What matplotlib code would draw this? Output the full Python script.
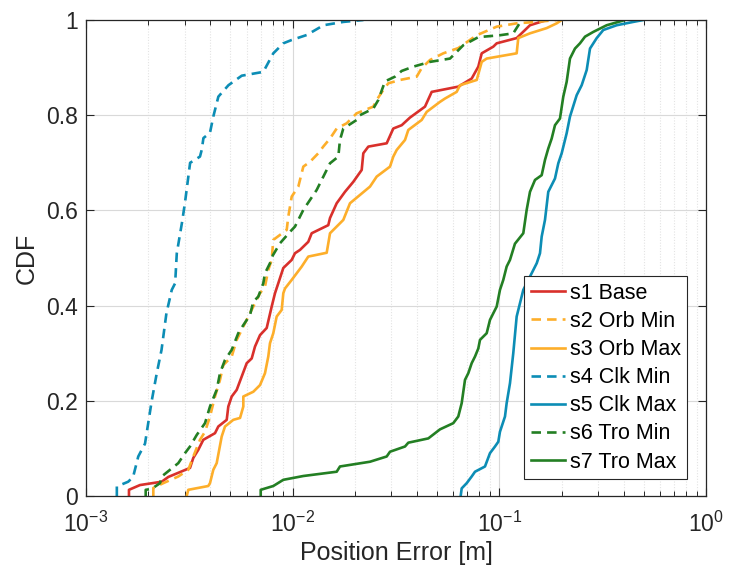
import matplotlib
matplotlib.use("Agg")
import matplotlib.pyplot as plt
from matplotlib.ticker import LogLocator, NullFormatter, FixedLocator

plt.rcParams['font.family'] = ['Liberation Sans', 'DejaVu Sans']
plt.rcParams['mathtext.fontset'] = 'custom'
plt.rcParams['mathtext.rm'] = 'Liberation Sans'
plt.rcParams['mathtext.it'] = 'Liberation Sans'

# Empirical CDF vertices: position error [m] and cumulative probability
s1_err = [0.001614, 0.001614, 0.001825, 0.002325, 0.002502, 0.003186, 0.003305, 0.003494,
          0.003694, 0.004209, 0.004367, 0.004796, 0.004882, 0.005070, 0.005361, 0.005668,
          0.005993, 0.006336, 0.006573, 0.006950, 0.007488, 0.007916, 0.008213, 0.008521,
          0.009010, 0.009893, 0.01026, 0.01085, 0.01190, 0.01236, 0.01487, 0.01516, 0.01633,
          0.01791, 0.01965, 0.02158, 0.02197, 0.02323, 0.02851, 0.03068, 0.03370, 0.03695,
          0.04368, 0.04707, 0.06329, 0.07349, 0.07912, 0.08218, 0.09350, 0.09710, 0.1213,
          0.1407, 0.1695]
s1_cdf = [0, 0.013, 0.023, 0.030, 0.040, 0.059, 0.080, 0.097, 0.118, 0.132, 0.146, 0.160,
          0.188, 0.209, 0.223, 0.251, 0.279, 0.289, 0.314, 0.338, 0.353, 0.398, 0.426, 0.447,
          0.479, 0.496, 0.510, 0.517, 0.534, 0.552, 0.569, 0.584, 0.615, 0.639, 0.660, 0.685,
          0.720, 0.734, 0.741, 0.772, 0.779, 0.795, 0.818, 0.849, 0.860, 0.877, 0.902, 0.930,
          0.944, 0.951, 0.962, 0.989, 1.0]

s2_err = [0.002117, 0.002117, 0.002366, 0.002796, 0.003126, 0.003305, 0.003561, 0.003765,
          0.003981, 0.004209, 0.004450, 0.004616, 0.005070, 0.005361, 0.005668, 0.006100,
          0.006449, 0.006950, 0.007346, 0.007621, 0.007916, 0.008058, 0.009357, 0.009526,
          0.009893, 0.01065, 0.01126, 0.01213, 0.01330, 0.01406, 0.01516, 0.01633, 0.01825,
          0.02041, 0.02455, 0.02550, 0.02744, 0.02902, 0.03306, 0.03983, 0.04210, 0.04619,
          0.05356, 0.06329, 0.07773, 0.09710, 0.1213, 0.1517, 0.1895]
s2_cdf = [0, 0.017, 0.027, 0.041, 0.055, 0.083, 0.118, 0.135, 0.167, 0.209, 0.244, 0.275,
          0.293, 0.328, 0.349, 0.377, 0.398, 0.426, 0.440, 0.475, 0.496, 0.538, 0.559, 0.587,
          0.629, 0.650, 0.692, 0.702, 0.720, 0.734, 0.751, 0.772, 0.783, 0.804, 0.818, 0.832,
          0.853, 0.867, 0.874, 0.881, 0.899, 0.916, 0.930, 0.941, 0.968, 0.986, 0.993, 0.996,
          1.0]

s3_err = [0.003071, 0.003126, 0.003905, 0.003981, 0.004130, 0.004289, 0.004535, 0.004705,
          0.005161, 0.005564, 0.005771, 0.005771, 0.006449, 0.006950, 0.007346, 0.007621,
          0.007767, 0.008058, 0.008368, 0.008850, 0.009010, 0.009182, 0.009893, 0.01046,
          0.01106, 0.01190, 0.01461, 0.01516, 0.01758, 0.01894, 0.02367, 0.02550, 0.02958,
          0.03068, 0.03187, 0.03496, 0.03627, 0.04210, 0.04452, 0.05162, 0.05458, 0.06217,
          0.06451, 0.07773, 0.08218, 0.08686, 0.1213, 0.1235, 0.1407, 0.1695, 0.1895, 0.2003]
s3_cdf = [0, 0.013, 0.021, 0.027, 0.055, 0.069, 0.125, 0.146, 0.160, 0.164, 0.188, 0.209,
          0.219, 0.233, 0.258, 0.293, 0.321, 0.342, 0.377, 0.391, 0.426, 0.436, 0.454, 0.468,
          0.482, 0.503, 0.511, 0.552, 0.580, 0.615, 0.650, 0.671, 0.692, 0.713, 0.727, 0.748,
          0.769, 0.790, 0.807, 0.828, 0.835, 0.849, 0.863, 0.874, 0.912, 0.919, 0.930, 0.962,
          0.972, 0.983, 0.993, 1.0]

s4_err = [0.00141, 0.00141, 0.00160, 0.00169, 0.00179, 0.00193, 0.00200, 0.00208, 0.00220,
          0.00232, 0.00245, 0.00260, 0.00270, 0.00275, 0.00291, 0.00301, 0.00319, 0.00356,
          0.00363, 0.00370, 0.00398, 0.00413, 0.00437, 0.00489, 0.00567, 0.00721, 0.00806,
          0.00901, 0.00989, 0.0117, 0.0141, 0.0176, 0.0220]
s4_cdf = [0, 0.02, 0.03, 0.04, 0.083, 0.11, 0.153, 0.2, 0.258, 0.307, 0.384, 0.433, 0.447,
          0.51, 0.573, 0.615, 0.70, 0.713, 0.727, 0.752, 0.763, 0.797, 0.839, 0.863, 0.883,
          0.891, 0.930, 0.951, 0.958, 0.9685, 0.989, 0.996, 1.0]

s5_err = [0.06501, 0.06574, 0.06953, 0.07349, 0.07626, 0.08522, 0.09011, 0.09528, 0.09886,
          0.1007, 0.1065, 0.1085, 0.1126, 0.1168, 0.1213, 0.1306, 0.1434, 0.1517, 0.1573,
          0.1603, 0.1663, 0.1725, 0.1859, 0.1929, 0.2003, 0.2117, 0.2197, 0.2367, 0.2503,
          0.2647, 0.2746, 0.2959, 0.3184, 0.3697, 0.4447, 0.4972]
s5_cdf = [0, 0.016, 0.027, 0.041, 0.051, 0.062, 0.090, 0.104, 0.114, 0.135, 0.167, 0.195,
          0.237, 0.300, 0.377, 0.433, 0.468, 0.489, 0.510, 0.545, 0.580, 0.639, 0.667, 0.699,
          0.720, 0.762, 0.797, 0.842, 0.863, 0.895, 0.940, 0.962, 0.979, 0.989, 0.996, 1.0]

s6_err = [0.001945, 0.001945, 0.002079, 0.002281, 0.002325, 0.002549, 0.002796, 0.003013,
          0.003186, 0.003431, 0.003765, 0.003981, 0.004289, 0.004450, 0.004705, 0.005070,
          0.005456, 0.005771, 0.006216, 0.006449, 0.006820, 0.007210, 0.007346, 0.007767,
          0.008004, 0.008686, 0.009707, 0.01026, 0.01126, 0.01307, 0.01516, 0.01663, 0.01694,
          0.01758, 0.02041, 0.02117, 0.02455, 0.02597, 0.02797, 0.03126, 0.03370, 0.03835,
          0.04619, 0.05773, 0.06692, 0.07912, 0.1007, 0.1168, 0.1283]
s6_cdf = [0, 0.013, 0.015, 0.027, 0.041, 0.055, 0.069, 0.090, 0.104, 0.128, 0.153, 0.188,
          0.223, 0.258, 0.286, 0.307, 0.342, 0.359, 0.380, 0.408, 0.419, 0.447, 0.468, 0.489,
          0.505, 0.531, 0.555, 0.566, 0.601, 0.643, 0.699, 0.713, 0.748, 0.772, 0.790, 0.800,
          0.814, 0.832, 0.871, 0.881, 0.893, 0.902, 0.912, 0.919, 0.947, 0.964, 0.968, 0.972,
          1.0]

s7_err = [0.007005, 0.007005, 0.008058, 0.009010, 0.01126, 0.01633, 0.01694, 0.02367,
          0.02851, 0.02958, 0.03496, 0.03627, 0.04533, 0.05162, 0.05985, 0.06329, 0.06574,
          0.06821, 0.07077, 0.07349, 0.07626, 0.07912, 0.08062, 0.08686, 0.09011, 0.09710,
          0.1007, 0.1045, 0.1085, 0.1126, 0.1190, 0.1306, 0.1356, 0.1407, 0.1488, 0.1603,
          0.1663, 0.1725, 0.1792, 0.1859, 0.1965, 0.2039, 0.2117, 0.2197, 0.2323, 0.2456,
          0.2598, 0.2849, 0.3307, 0.4055]
s7_cdf = [0, 0.013, 0.021, 0.034, 0.042, 0.051, 0.062, 0.072, 0.083, 0.093, 0.104, 0.112,
          0.121, 0.140, 0.153, 0.167, 0.195, 0.244, 0.258, 0.279, 0.293, 0.310, 0.328, 0.342,
          0.370, 0.398, 0.433, 0.454, 0.482, 0.496, 0.530, 0.552, 0.601, 0.639, 0.664, 0.674,
          0.706, 0.730, 0.751, 0.779, 0.793, 0.839, 0.870, 0.919, 0.940, 0.951, 0.965, 0.975,
          0.989, 1.0]

labels = ["s1 Base", "s2 Orb Min", "s3 Orb Max", "s4 Clk Min",
          "s5 Clk Max", "s6 Tro Min", "s7 Tro Max"]

RED = "#D9302B"
ORANGE = "#FDAE2A"
TEAL = "#0C8DB5"
GREEN = "#237F23"

series = [
    (s1_err, s1_cdf, RED, "-"),
    (s2_err, s2_cdf, ORANGE, "--"),
    (s3_err, s3_cdf, ORANGE, "-"),
    (s4_err, s4_cdf, TEAL, "--"),
    (s5_err, s5_cdf, TEAL, "-"),
    (s6_err, s6_cdf, GREEN, "--"),
    (s7_err, s7_cdf, GREEN, "-"),
]

W, H = 729, 576
fig = plt.figure(figsize=(W / 100, H / 100), dpi=100)
ax = fig.add_axes([86 / W, 80 / H, 620 / W, 476 / H])

for (err, cdf, col, ls), lab in zip(series, labels):
    line, = ax.plot(err, cdf, color=col, linestyle=ls, lw=1.9, label=lab)
    if ls == "--":
        line.set_dashes((3.6, 2.3))

ax.set_xscale("log")
ax.set_xlim(1e-3, 1)
ax.set_ylim(0, 1)
ax.yaxis.set_major_locator(FixedLocator([0, 0.2, 0.4, 0.6, 0.8, 1.0]))
ax.set_yticklabels(["0", "0.2", "0.4", "0.6", "0.8", "1"])
ax.xaxis.set_major_locator(LogLocator(base=10, numticks=10))
ax.xaxis.set_minor_locator(LogLocator(base=10, subs=range(2, 10), numticks=20))
ax.xaxis.set_minor_formatter(NullFormatter())

ax.grid(True, which="major", color="#d9d9d9", lw=0.8)
ax.grid(True, which="minor", axis="x", color="#e3e3e3", lw=0.8, linestyle=(0, (1, 1.5)))
ax.set_axisbelow(True)

for sp in ax.spines.values():
    sp.set_color("#262626")
    sp.set_linewidth(0.9)
ax.tick_params(which="both", direction="in", top=True, right=True, colors="#262626",
               labelsize=16.5, labelcolor="#262626")
ax.tick_params(which="major", length=6, width=0.8)
ax.tick_params(which="minor", length=3.5, width=0.7)
ax.tick_params(axis="x", which="major", pad=11)
ax.tick_params(axis="y", which="major", pad=6)

ax.set_xlabel("Position Error [m]", fontsize=18, color="#262626", labelpad=3)
ax.set_ylabel("CDF", fontsize=18, color="#262626", labelpad=5)

leg = ax.legend(loc="lower right", bbox_to_anchor=(687 / W, 97 / H),
                bbox_transform=fig.transFigure, borderaxespad=0,
                fontsize=15.5, handlelength=1.6, handletextpad=0.2,
                labelspacing=0.33, borderpad=0.3, fancybox=False,
                framealpha=1, edgecolor="#262626")
leg.get_frame().set_linewidth(0.8)

fig.savefig("out.png", dpi=100)
